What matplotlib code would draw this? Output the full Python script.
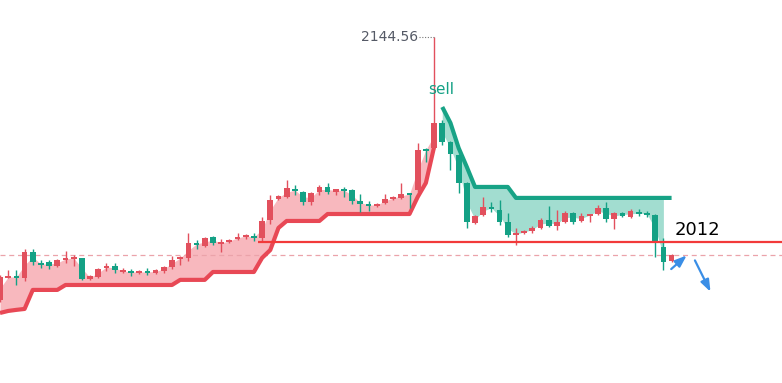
import numpy as np
import matplotlib
matplotlib.use("Agg")
import matplotlib.pyplot as plt
from matplotlib.patches import FancyArrowPatch

# candles: open, high, low, close (red = up, green = down)
opens = [1974.5, 1988.7, 1990.0, 1988.7, 2005.5, 1998.4, 1999.1, 1996.5, 2000.4, 2001.0,
         2001.7, 1988.1, 1989.4, 1995.2, 1996.5, 1992.6, 1993.3, 1992.0, 1993.3, 1992.0,
         1993.3, 1995.9, 2001.0, 2001.7, 2011.4, 2009.4, 2015.3, 2010.7, 2012.0, 2014.0,
         2015.3, 2015.9, 2014.6, 2026.2, 2039.8, 2041.1, 2046.3, 2044.3, 2037.9, 2044.3,
         2047.6, 2044.3, 2046.3, 2045.6, 2038.5, 2036.6, 2035.3, 2037.2, 2039.8, 2040.5,
         2043.7, 2045.6, 2072.2, 2072.8, 2089.0, 2076.7, 2068.3, 2050.2, 2024.3, 2029.5,
         2034.7, 2032.7, 2025.0, 2016.5, 2017.8, 2019.1, 2021.1, 2026.2, 2022.4, 2025.0,
         2030.8, 2025.6, 2028.8, 2030.1, 2034.0, 2026.9, 2030.8, 2028.2, 2031.4, 2030.8,
         2029.5, 2008.8, 1999.7]
highs = [1990.7, 1993.9, 1993.9, 2007.5, 2007.5, 2000.4, 2000.4, 2001.0, 2006.2, 2003.6,
         2001.7, 1990.7, 1995.2, 1998.4, 1998.4, 1995.2, 1994.6, 1993.9, 1995.2, 1994.6,
         1996.5, 2003.0, 2003.0, 2017.8, 2013.3, 2015.3, 2015.9, 2014.0, 2014.0, 2017.8,
         2017.2, 2017.8, 2028.2, 2042.4, 2042.4, 2052.1, 2048.9, 2045.0, 2044.3, 2048.9,
         2050.2, 2046.3, 2047.6, 2046.3, 2043.1, 2038.5, 2037.2, 2043.1, 2041.8, 2050.2,
         2043.7, 2076.0, 2072.8, 2144.56, 2090.9, 2077.3, 2068.9, 2050.8, 2029.5, 2041.1,
         2037.9, 2039.2, 2030.8, 2021.1, 2019.8, 2022.4, 2027.5, 2035.3, 2032.7, 2032.1,
         2031.4, 2030.8, 2030.1, 2035.9, 2037.9, 2031.4, 2031.4, 2033.4, 2033.4, 2032.1,
         2030.1, 2014.6, 2004.3]
lows = [1973.2, 1988.7, 1984.2, 1986.8, 1997.2, 1995.2, 1994.6, 1995.9, 1998.4, 1996.5,
        1987.5, 1987.5, 1988.7, 1993.3, 1992.0, 1992.0, 1990.0, 1991.3, 1990.7, 1991.3,
        1992.0, 1994.6, 1997.2, 1999.7, 2007.5, 2008.8, 2010.1, 2005.5, 2011.4, 2013.3,
        2014.0, 2012.7, 2012.0, 2023.7, 2039.2, 2040.5, 2042.4, 2035.9, 2035.9, 2042.4,
        2043.1, 2042.4, 2041.1, 2036.6, 2031.4, 2032.1, 2034.7, 2036.6, 2039.2, 2039.8,
        2034.0, 2044.3, 2063.7, 2072.2, 2074.7, 2058.6, 2043.7, 2021.1, 2023.7, 2028.8,
        2031.4, 2023.0, 2015.3, 2010.1, 2017.2, 2017.8, 2020.4, 2021.7, 2019.8, 2024.3,
        2023.7, 2025.0, 2025.0, 2029.5, 2025.0, 2020.4, 2028.2, 2027.5, 2028.8, 2028.2,
        2002.3, 1993.9, 1999.1]
closes = [1989.4, 1990.0, 1988.7, 2005.5, 1999.1, 1997.2, 1996.5, 2000.4, 2001.7, 2002.3,
          1988.1, 1990.0, 1994.6, 1996.5, 1993.9, 1993.9, 1992.0, 1993.3, 1992.0, 1993.9,
          1995.9, 2000.4, 2002.3, 2011.4, 2010.1, 2014.6, 2011.4, 2012.0, 2013.3, 2015.3,
          2016.5, 2014.6, 2025.6, 2039.2, 2041.8, 2046.9, 2045.0, 2037.9, 2043.7, 2047.6,
          2044.3, 2046.3, 2045.0, 2038.5, 2036.6, 2035.3, 2036.6, 2039.8, 2041.1, 2043.1,
          2042.4, 2071.5, 2070.9, 2089.0, 2076.7, 2068.9, 2050.2, 2025.0, 2028.8, 2034.7,
          2033.4, 2025.0, 2016.5, 2017.8, 2019.1, 2021.1, 2026.2, 2022.4, 2025.0, 2030.8,
          2025.0, 2028.8, 2030.1, 2034.0, 2026.9, 2030.8, 2028.8, 2032.1, 2030.1, 2029.5,
          2011.4, 1999.1, 2003.6]

# supertrend: up leg (below price) then down leg (above price)
st_up = [1966.1, 1967.4, 1968.1, 1968.7, 1981.0, 1981.0, 1981.0, 1981.0, 1984.2, 1984.2,
         1984.2, 1984.2, 1984.2, 1984.2, 1984.2, 1984.2, 1984.2, 1984.2, 1984.2, 1984.2,
         1984.2, 1984.2, 1987.5, 1987.5, 1987.5, 1987.5, 1992.6, 1992.6, 1992.6, 1992.6,
         1992.6, 1992.6, 2001.7, 2006.8, 2021.1, 2025.6, 2025.6, 2025.6, 2025.6, 2025.6,
         2030.1, 2030.1, 2030.1, 2030.1, 2030.1, 2030.1, 2030.1, 2030.1, 2030.1, 2030.1,
         2030.1, 2041.1, 2050.2, 2073.4]
st_down = [2099.3, 2089.0, 2072.8, 2060.5, 2047.6, 2047.6, 2047.6, 2047.6, 2047.6, 2040.5,
           2040.5, 2040.5, 2040.5, 2040.5, 2040.5, 2040.5, 2040.5, 2040.5, 2040.5, 2040.5,
           2040.5, 2040.5, 2040.5, 2040.5, 2040.5, 2040.5, 2040.5, 2040.5, 2040.5]

level = 2012.0
peak = 2144.56
dash_level = 2003.6

RED = '#e2505d'
GREEN = '#14a185'

o = np.array(opens); h = np.array(highs); l = np.array(lows); c = np.array(closes)
n = len(o)
x = np.arange(n)
mid = (o + c) / 2

fig = plt.figure(figsize=(7.82, 3.83), dpi=100)
ax = fig.add_axes([0, 0, 1, 1])
ax.set_axis_off()

n_up = len(st_up)
xu = x[:n_up]
xd = x[n_up:n_up + len(st_down)]

ax.fill_between(xu, st_up, mid[:n_up], color='#f8b8be', lw=0, zorder=1)
ax.fill_between(xd[:-1], st_down[:-1], mid[n_up:n_up + len(st_down) - 1],
                color='#a2ddd0', lw=0, zorder=1)
ax.plot(xu, st_up, color='#e84855', lw=3.0, solid_capstyle='butt', zorder=2)
ax.plot(xd, st_down, color='#17a386', lw=3.0, solid_capstyle='butt', zorder=2)

ax.axhline(dash_level, color='#eba3aa', lw=0.9, ls=(0, (4, 3)), zorder=1.5)

up = c >= o
colors = np.where(up, RED, GREEN)
ax.vlines(x, l, h, colors=colors, lw=1.0, zorder=3)
body = np.maximum(np.abs(c - o), 0.9)
ax.bar(x, body, bottom=np.minimum(o, c), width=0.7, color=colors, lw=0, zorder=3)

ax.hlines(level, 31.45, 96, color='#f23a3a', lw=1.6, zorder=4)
ax.text(82.4, level + 2.2, '2012', fontsize=13, color='black', va='bottom', ha='left')

ipk = int(np.argmax(h))
ax.hlines(peak, ipk - 1.8, ipk, color='#777777', lw=0.8, ls=(0, (1, 1.5)), zorder=4)
ax.text(ipk - 2.0, peak, f'{peak:.2f}', fontsize=10, color='#555a66',
        ha='right', va='center')
ax.text(ipk - 0.7, 2110.3, 'sell', fontsize=11, color=GREEN, ha='left', va='center')

for p0, p1 in [((81.7, 1993.3), (84.1, 2004.5)), ((84.7, 2001.7), (86.9, 1978.2))]:
    ax.add_patch(FancyArrowPatch(p0, p1, arrowstyle='-|>,head_length=7,head_width=2.6',
                                 color='#3a8ee6', lw=1.6, zorder=5))

ax.set_xlim(0, 782 / 8.19)
ax.set_ylim(1920.8, 2168.5)

fig.savefig('out.png', dpi=100)
